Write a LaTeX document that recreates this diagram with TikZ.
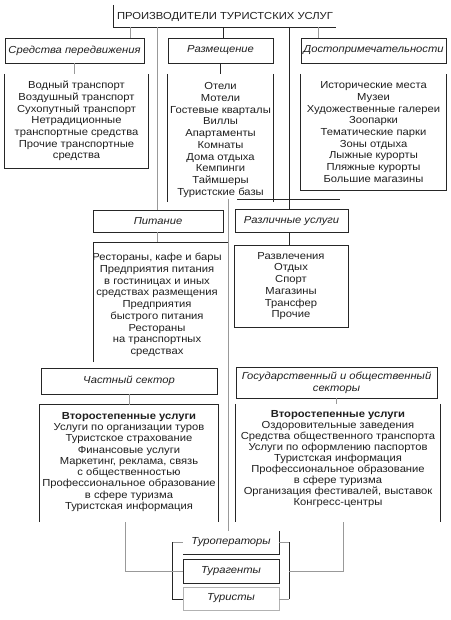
\documentclass[tikz,border=0pt]{standalone}
\usepackage{fontspec}
\setmainfont[FakeStretch=1.1]{Liberation Sans}
\begin{document}
\begin{tikzpicture}[x=1pt,y=-1pt,
  txt/.style={font=\fontsize{10.2}{11.7}\selectfont, align=center, text=black!88, inner sep=0pt},
  hd/.style={txt, font=\fontsize{10.2}{11.7}\selectfont\itshape, draw=black!85, line width=0.8pt},
  ln/.style={line width=0.8pt, black!85},
  gl/.style={line width=0.8pt, black!40}]
\useasboundingbox (0,0) rectangle (450,620);

% title
\node[txt] (title) at (225,16.5) {ПРОИЗВОДИТЕЛИ ТУРИСТСКИХ УСЛУГ};
\coordinate (bt) at (113,5);
\coordinate (bb) at (113,27);
\coordinate (be) at (336,27);
\draw[ln] (bt) -- (bb) -- (be);
\coordinate (b1) at (130,27);
\coordinate (b2) at (157,27);
\coordinate (b3) at (223,27);
\coordinate (b4) at (289,27);
\coordinate (b5) at (318,27);

% top headings
\node[hd, minimum width=139pt, minimum height=25pt] (trans) at (74.5,50.5) {Средства передвижения};
\node[hd, minimum width=105pt, minimum height=25pt] (accom) at (220.5,50.5) {Размещение};
\node[hd, minimum width=145pt, minimum height=25pt] (attr) at (373.5,50.5) {Достопримечательности};
\draw[gl] (b1) -- (b1 |- trans.north);
\draw[ln] (b3) -- (b3 |- accom.north);
\draw[gl] (b5) -- (b5 |- attr.north);

% top contents
\node[txt, minimum width=143pt, minimum height=94pt] (transC) at (76.5,121)
  {Водный транспорт\\Воздушный транспорт\\Сухопутный транспорт\\Нетрадиционные\\транспортные средства\\Прочие транспортные\\средства};
\draw[ln] (transC.north west) -- (transC.south west) -- (transC.south east) -- (transC.north east);
\node[txt, minimum width=105pt, minimum height=132pt] (accomC) at (220.5,140)
  {Отели\\Мотели\\Гостевые кварталы\\Виллы\\Апартаменты\\Комнаты\\Дома отдыха\\Кемпинги\\Таймшеры\\Туристские базы};
\draw[ln] (accomC.north west) -- ([yshift=4pt]accomC.south west);
\draw[ln] (accomC.north east) -- ([yshift=4pt]accomC.south east);
\node[txt, minimum width=145pt, minimum height=116pt] (attrC) at (373.5,132)
  {Исторические места\\Музеи\\Художественные галереи\\Зоопарки\\Тематические парки\\Зоны отдыха\\Лыжные курорты\\Пляжные курорты\\Большие магазины};
\draw[ln] (attrC.north west) -- (attrC.south west) -- (attrC.south east) -- (attrC.north east);
\draw[gl] (trans.south) -- (trans.south |- transC.north);
\draw[ln] (accom.south) -- (accom.south |- accomC.north);

% middle row
\node[hd, minimum width=130pt, minimum height=22pt] (pit) at (158,221) {Питание};
\node[hd, minimum width=113pt, minimum height=23pt] (var) at (291.5,221) {Различные услуги};
\draw[gl] (b2) -- (b2 |- pit.north);
\draw[ln] (b4) -- (b4 |- var.north);
\coordinate (hl) at (237,199);
\coordinate (hr) at (340,199);
\draw[ln] (hl) -- (hr);

\node[txt] (pitC) at (157,305)
  {Рестораны, кафе и бары\\Предприятия питания\\в гостиницах и иных\\средствах размещения\\Предприятия\\быстрого питания\\Рестораны\\на транспортных\\средствах};
\coordinate (pTL) at (93,242);
\coordinate (pTR) at (228,242);
\coordinate (pBL) at (93,362);
\draw[ln] (pBL) -- (pTL) -- (pTR);
\draw[gl] (b2 |- pit.south) -- (b2 |- pTL);

\node[txt, draw=black!85, line width=0.8pt, minimum width=114pt, minimum height=82pt] (varC) at (291,286)
  {Развлечения\\Отдых\\Спорт\\Магазины\\Трансфер\\Прочие};
\draw[ln] (b4 |- var.south) -- (b4 |- varC.north);

% sectors
\node[hd, minimum width=176pt, minimum height=26pt] (priv) at (129,381) {Частный сектор};
\node[hd, minimum width=201pt, minimum height=31pt] (gov) at (336.5,382.5) {Государственный и общественный\\секторы};

\node[txt, font=\fontsize{10.2}{11.25}\selectfont, minimum width=178pt, minimum height=114pt] (privC) at (129,462)
  {\textbf{Второстепенные услуги}\\Услуги по организации туров\\Туристское страхование\\Финансовые услуги\\Маркетинг, реклама, связь\\с общественностью\\Профессиональное образование\\в сфере туризма\\Туристская информация};
\draw[ln] ([yshift=-3pt]privC.south west) -- (privC.north west) -- (privC.north east) -- ([yshift=-3pt]privC.south east);
\node[txt, font=\fontsize{10.2}{11}\selectfont, minimum width=204pt, minimum height=110pt] (govC) at (338,459)
  {\textbf{Второстепенные услуги}\\Оздоровительные заведения\\Средства общественного транспорта\\Услуги по оформлению паспортов\\Туристская информация\\Профессиональное образование\\в сфере туризма\\Организация фестивалей, выставок\\Конгресс-центры};
\draw[ln] (govC.north west) -- ([yshift=-8pt]govC.south west);
\draw[ln] (govC.north east) -- ([yshift=-8pt]govC.south east);
\draw[gl] (priv.south) -- (priv.south |- privC.north);
\draw[gl] (gov.south) -- (gov.south |- govC.north);

% bottom
\node[txt, font=\fontsize{10.2}{11.7}\selectfont\itshape, minimum width=96pt, minimum height=23pt] (tour) at (231,542.5) {Туроператоры};
\draw[ln] (tour.north east) -- (tour.south east) -- (tour.south west);
\node[hd, minimum width=96pt, minimum height=24pt] (agent) at (231,571) {Турагенты};
\node[hd, draw=black!30, minimum width=96pt, minimum height=23pt] (tourist) at (231,598.5) {Туристы};

\coordinate (sp) at (228,199);
\draw[gl] (sp) -- (sp |- tour.north);

\coordinate (lbt) at (172,542);
\coordinate (lbb) at (172,599);
\coordinate (rbt) at (289,542);
\coordinate (rbb) at (289,599);
\draw[gl] (lbt -| tour.west) -- (lbt);
\draw[ln] (lbt) -- (lbb) -- (lbb -| tourist.west);
\draw[gl] (rbt -| tour.east) -- (rbt);
\draw[ln] (rbt) -- (rbb);
\draw[gl] (rbb) -- (rbb -| tourist.east);

\coordinate (pl) at (125,522);
\coordinate (pr) at (343,522);
\draw[gl] (pl) |- (agent.west);
\draw[gl] (pr) |- (rbt |- agent.east);
\end{tikzpicture}
\end{document}
